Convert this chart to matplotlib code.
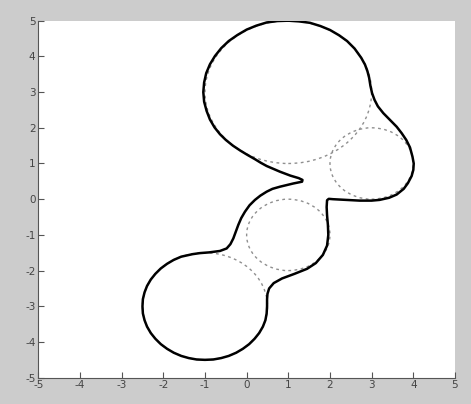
import matplotlib
matplotlib.use("Agg")
import matplotlib.pyplot as plt
from matplotlib.patches import Circle

# Dashed reference circles (centre x, centre y, radius)
circle_x = [1, 3, 1, -1]
circle_y = [3, 1, -1, -3]
circle_r = [2, 1, 1, 1.5]

# Solid envelope curve
curve_pts = [
    (1.00, 5.00), (0.74, 4.99), (0.48, 4.95), (0.23, 4.86), (0.00, 4.75),
    (-0.22, 4.60), (-0.43, 4.43), (-0.61, 4.23), (-0.76, 4.01), (-0.88, 3.78),
    (-0.97, 3.53), (-1.02, 3.27), (-1.04, 3.00), (-1.02, 2.73), (-0.96, 2.47),
    (-0.88, 2.23), (-0.77, 2.01), (-0.64, 1.82), (-0.50, 1.66), (-0.33, 1.50),
    (-0.15, 1.36), (0.02, 1.24), (0.20, 1.12), (0.34, 1.02), (0.48, 0.93),
    (0.64, 0.85), (0.80, 0.77), (1.05, 0.66), (1.25, 0.59), (1.34, 0.54),
    (1.33, 0.49), (1.12, 0.44), (0.80, 0.35), (0.62, 0.29), (0.48, 0.21),
    (0.33, 0.10), (0.20, -0.02), (0.07, -0.17), (-0.04, -0.35), (-0.13, -0.53),
    (-0.20, -0.72), (-0.26, -0.91), (-0.32, -1.10), (-0.39, -1.26), (-0.48, -1.38),
    (-0.64, -1.45), (-0.90, -1.49), (-1.12, -1.51), (-1.30, -1.54), (-1.57, -1.61),
    (-1.75, -1.70), (-1.91, -1.81), (-2.06, -1.94), (-2.19, -2.09), (-2.30, -2.25),
    (-2.39, -2.43), (-2.45, -2.61), (-2.49, -2.80), (-2.50, -3.00), (-2.49, -3.20),
    (-2.45, -3.39), (-2.39, -3.57), (-2.30, -3.75), (-2.19, -3.91), (-2.06, -4.06),
    (-1.91, -4.19), (-1.75, -4.30), (-1.57, -4.39), (-1.39, -4.45), (-1.20, -4.49),
    (-1.00, -4.50), (-0.80, -4.49), (-0.61, -4.45), (-0.43, -4.39), (-0.25, -4.30),
    (-0.09, -4.19), (0.06, -4.06), (0.19, -3.91), (0.30, -3.75), (0.39, -3.57),
    (0.45, -3.39), (0.48, -3.20), (0.49, -3.00), (0.49, -2.80), (0.50, -2.65),
    (0.54, -2.50), (0.65, -2.35), (0.85, -2.22), (1.15, -2.09), (1.45, -1.95),
    (1.66, -1.79), (1.83, -1.56), (1.93, -1.30), (1.96, -1.00), (1.95, -0.72),
    (1.93, -0.45), (1.92, -0.22), (1.93, -0.03), (1.97, 0.01), (2.07, 0.00),
    (2.40, -0.02), (2.71, -0.04), (3.00, -0.04), (3.19, -0.02), (3.42, 0.04),
    (3.60, 0.13), (3.77, 0.29), (3.87, 0.45), (3.96, 0.65), (4.00, 0.82),
    (4.01, 1.00), (3.98, 1.19), (3.92, 1.45), (3.83, 1.66), (3.72, 1.85),
    (3.60, 2.03), (3.44, 2.22), (3.28, 2.41), (3.15, 2.60), (3.07, 2.78),
    (3.01, 2.97), (2.97, 3.18), (2.94, 3.40), (2.90, 3.58), (2.84, 3.77),
    (2.75, 3.96), (2.59, 4.22), (2.41, 4.43), (2.22, 4.59), (2.00, 4.74),
    (1.77, 4.85), (1.52, 4.94), (1.26, 4.98), (1.00, 5.00),
]
curve_x = [p[0] for p in curve_pts]
curve_y = [p[1] for p in curve_pts]

ticks = [-5, -4, -3, -2, -1, 0, 1, 2, 3, 4, 5]

fig = plt.figure(figsize=(4.71, 4.04), dpi=100, facecolor="#cccccc")
ax = fig.add_axes([0.0813, 0.0651, 0.8847, 0.8837])
ax.set_facecolor("white")

for cx, cy, r in zip(circle_x, circle_y, circle_r):
    ax.add_patch(Circle((cx, cy), r, fill=False, edgecolor="#8f8f8f",
                        linewidth=1.0, linestyle=(0, (2, 2.5))))

ax.plot(curve_x, curve_y, color="black", linewidth=1.8,
        solid_joinstyle="round", solid_capstyle="round")

ax.set_xlim(-5, 5)
ax.set_ylim(-5, 5)
ax.set_xticks(ticks)
ax.set_yticks(ticks)
ax.set_xticklabels([str(t) for t in ticks])
ax.set_yticklabels([str(t) for t in ticks])
ax.tick_params(direction="in", length=4, width=0.8, colors="#555555",
               labelsize=7.5, labelcolor="#444444", pad=2)
for side in ["top", "right"]:
    ax.spines[side].set_visible(False)
for side in ["left", "bottom"]:
    ax.spines[side].set_color("#555555")
    ax.spines[side].set_linewidth(0.8)

fig.savefig("out.png", dpi=100, facecolor=fig.get_facecolor())
